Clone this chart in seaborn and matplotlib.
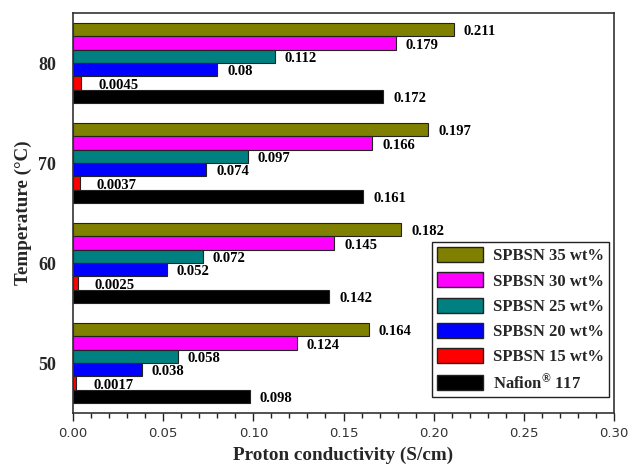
import matplotlib
matplotlib.use("Agg")
import matplotlib.pyplot as plt
import seaborn as sns
import pandas as pd

# Proton conductivity (S/cm) by temperature (°C) for each membrane
temperatures = ["80", "70", "60", "50"]
membranes = ["SPBSN 35 wt%", "SPBSN 30 wt%", "SPBSN 25 wt%",
             "SPBSN 20 wt%", "SPBSN 15 wt%", "Nafion$^{®}$ 117"]
spbsn35 = [0.211, 0.197, 0.182, 0.164]
spbsn30 = [0.179, 0.166, 0.145, 0.124]
spbsn25 = [0.112, 0.097, 0.072, 0.058]
spbsn20 = [0.080, 0.074, 0.052, 0.038]
spbsn15 = [0.0045, 0.0037, 0.0025, 0.0017]
nafion117 = [0.172, 0.161, 0.142, 0.098]
colors = ["#808000", "#FF00FF", "#008080", "#0000FF", "#FF0000", "#000000"]
x_ticks = [0.00, 0.05, 0.10, 0.15, 0.20, 0.25, 0.30]

series = [spbsn35, spbsn30, spbsn25, spbsn20, spbsn15, nafion117]
rows = []
for name, vals in zip(membranes, series):
    for t, v in zip(temperatures, vals):
        rows.append({"Temperature": t, "Membrane": name, "Conductivity": v})
df = pd.DataFrame(rows)

sns.set_style("ticks")
plt.rcParams["font.family"] = ["Liberation Serif", "DejaVu Serif"]
plt.rcParams["mathtext.fontset"] = "custom"
plt.rcParams["mathtext.rm"] = "Liberation Serif:bold"
plt.rcParams["mathtext.it"] = "Liberation Serif:bold"
plt.rcParams["mathtext.bf"] = "Liberation Serif:bold"

fig = plt.figure(figsize=(6.3, 4.65), dpi=100)
ax = fig.add_axes([0.1159, 0.1118, 0.8587, 0.8602])

sns.barplot(data=df, y="Temperature", x="Conductivity", hue="Membrane",
            order=temperatures, hue_order=membranes, palette=colors,
            orient="h", width=0.8, edgecolor="#222222", linewidth=0.8,
            saturation=1, ax=ax, legend=True)

# value labels to the right of each bar
for cont, name in zip(ax.containers, membranes):
    pad = 17 if name == "SPBSN 15 wt%" else 10
    for patch in cont.patches:
        w = patch.get_width()
        yc = patch.get_y() + patch.get_height() / 2
        ax.annotate(f"{w:g}", xy=(w, yc), xytext=(pad, -2),
                    textcoords="offset pixels", ha="left", va="center",
                    fontsize=10.5, fontweight="bold", color="black")

ax.set_xlim(0, 0.30)
ax.set_xticks(x_ticks)
ax.set_xticklabels([f"{t:.2f}" for t in x_ticks], family="DejaVu Sans",
                   fontsize=9.5, color="#333333")
ax.xaxis.set_minor_locator(matplotlib.ticker.MultipleLocator(0.01))
ax.tick_params(axis="x", which="major", direction="out", length=6, width=1,
               color="#222222", pad=4)
ax.tick_params(axis="x", which="minor", direction="out", length=3.5, width=1,
               color="#222222")
ax.tick_params(axis="y", length=0, pad=12, labelsize=13)
for lab in ax.get_yticklabels():
    lab.set_fontweight("bold")

for sp in ax.spines.values():
    sp.set_visible(True)
    sp.set_color("#333333")
    sp.set_linewidth(1.2)

ax.set_xlabel("Proton conductivity (S/cm)", fontsize=13.8, fontweight="bold",
              labelpad=5)
ax.set_ylabel("Temperature (°C)", fontsize=13.8, fontweight="bold", labelpad=5)

handles, labels = ax.get_legend_handles_labels()
leg = ax.legend(handles, labels, loc="upper right",
                bbox_to_anchor=(0.9908, 0.4275), borderaxespad=0,
                prop={"family": "Liberation Serif", "weight": "bold", "size": 12},
                handlelength=2.75, handleheight=1.02, labelspacing=0.48,
                handletextpad=0.6, borderpad=0.3, fancybox=False,
                framealpha=1, edgecolor="#222222")
leg.get_frame().set_linewidth(1.0)
for h in leg.legend_handles:
    h.set_edgecolor("#222222")
    h.set_linewidth(1.0)

fig.savefig("out.png", dpi=100)
